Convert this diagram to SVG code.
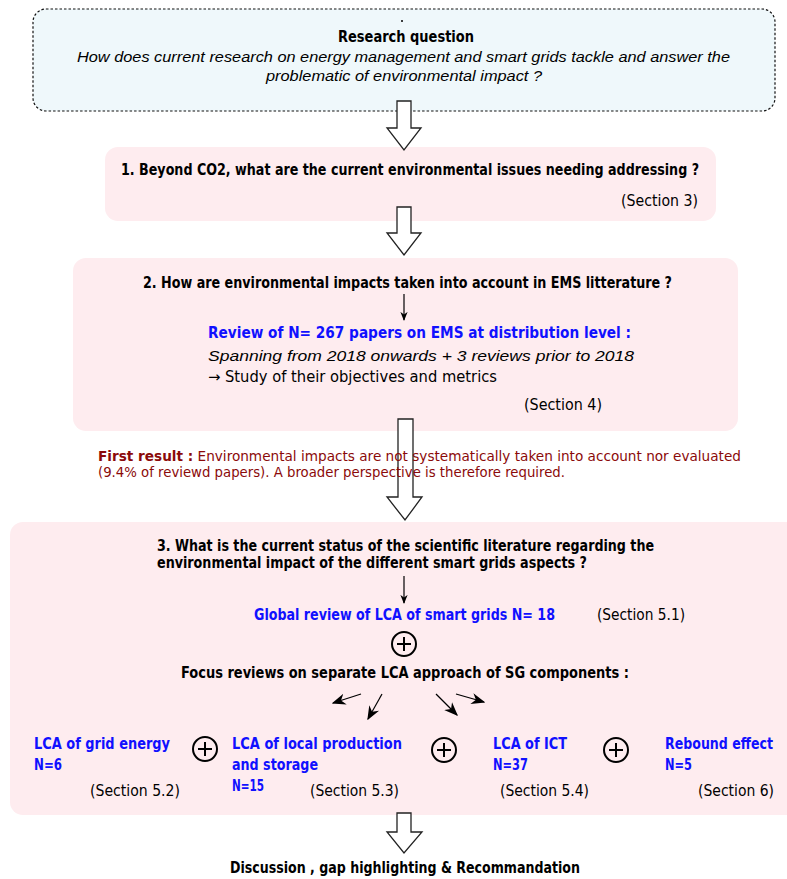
<svg xmlns="http://www.w3.org/2000/svg" width="787" height="879" viewBox="0 0 787 879">
<defs>
<style>
.c{font-family:"Liberation Sans Narrow","DejaVu Sans Condensed","DejaVu Sans",sans-serif;font-stretch:condensed;font-size:15px;fill:#000}
.b{font-weight:bold}
.blue{fill:#1010ff;font-weight:bold}
.red{fill:#8b0a0a;font-size:13.5px}
.it{font-family:"Liberation Sans",Arial,sans-serif;font-style:italic;font-size:15px;fill:#000}
.pink{fill:#feecef}
.big{fill:#fff;stroke:#222;stroke-width:1.3;stroke-linejoin:miter}
.plus{fill:none;stroke:#000;stroke-width:2}
.thin{stroke:#000;stroke-width:1.2;fill:none}
</style>
<marker id="ah" viewBox="0 0 10 10" refX="9" refY="5" markerWidth="9" markerHeight="9" orient="auto" markerUnits="userSpaceOnUse">
<path d="M0,1 L10,5 L0,9 L3,5 z" fill="#000"/>
</marker>
<marker id="ah2" viewBox="0 0 10 10" refX="9" refY="5" markerWidth="14" markerHeight="14" orient="auto" markerUnits="userSpaceOnUse">
<path d="M0,1 L10,5 L0,9 L3,5 z" fill="#000"/>
</marker>
</defs>

<g id="research-question">
<rect x="33" y="9" width="742" height="102" rx="13" fill="#eff8fb" stroke="#111" stroke-width="1.2" stroke-dasharray="2.5,2"/>
<circle cx="402" cy="21" r="1" fill="#000"/>
<text class="c b" x="338" y="42" textLength="136" lengthAdjust="spacingAndGlyphs">Research question</text>
<text class="it" x="77" y="62" textLength="653" lengthAdjust="spacingAndGlyphs">How does current research on energy management and smart grids tackle and answer the</text>
<text class="it" x="266" y="81" textLength="276" lengthAdjust="spacingAndGlyphs">problematic of environmental impact ?</text>
</g>

<g id="q1">
<rect class="pink" x="105" y="147" width="611" height="74" rx="13"/>
<text class="c b" x="121" y="175" textLength="578" lengthAdjust="spacingAndGlyphs">1. Beyond CO2, what are the current environmental issues needing addressing ?</text>
<text class="c" x="621" y="206" textLength="77" lengthAdjust="spacingAndGlyphs">(Section 3)</text>
</g>

<g id="q2">
<rect class="pink" x="73" y="258" width="665" height="173" rx="13"/>
<text class="c b" x="143" y="288" textLength="529" lengthAdjust="spacingAndGlyphs">2. How are environmental impacts taken into account in EMS litterature ?</text>
<text class="c blue" x="208" y="338" textLength="423" lengthAdjust="spacingAndGlyphs">Review of N= 267 papers on EMS at distribution level  :</text>
<text class="it" x="208" y="361" textLength="426" lengthAdjust="spacingAndGlyphs">Spanning from 2018 onwards + 3 reviews prior to 2018</text>
<text class="c" x="208" y="382" textLength="289" lengthAdjust="spacingAndGlyphs">→ Study of their objectives and metrics</text>
<text class="c" x="524" y="410" textLength="78" lengthAdjust="spacingAndGlyphs">(Section 4)</text>
</g>

<g id="q3">
<rect class="pink" x="10" y="522" width="790" height="293" rx="13"/>
<text class="c b" x="157" y="551" textLength="497" lengthAdjust="spacingAndGlyphs">3. What is the current status of the scientific literature regarding the</text>
<text class="c b" x="157" y="568" textLength="430" lengthAdjust="spacingAndGlyphs">environmental impact of the different smart grids aspects ?</text>
</g>

<g id="global-review">
<text class="c blue" x="254" y="620" textLength="301" lengthAdjust="spacingAndGlyphs">Global review of LCA of smart grids N= 18</text>
<text class="c" x="597" y="620" textLength="88" lengthAdjust="spacingAndGlyphs">(Section 5.1)</text>
</g>

<g id="plus-1">
<circle class="plus" cx="404" cy="644" r="12"/>
<path class="plus" d="M397,644 H411 M404,637 V651"/>
</g>

<g id="focus">
<text class="c b" x="181" y="678" textLength="448" lengthAdjust="spacingAndGlyphs">Focus reviews on separate LCA approach of SG components :</text>
</g>

<g id="grid-energy">
<text class="c blue" x="34" y="749" textLength="136" lengthAdjust="spacingAndGlyphs">LCA of grid energy</text>
<text class="c blue" x="34" y="770" textLength="28" lengthAdjust="spacingAndGlyphs">N=6</text>
<text class="c" x="90" y="796" textLength="90" lengthAdjust="spacingAndGlyphs">(Section 5.2)</text>
</g>

<g id="plus-2">
<circle class="plus" cx="205" cy="749" r="12"/>
<path class="plus" d="M198,749 H212 M205,742 V756"/>
</g>

<g id="local-production">
<text class="c blue" x="232" y="749" textLength="170" lengthAdjust="spacingAndGlyphs">LCA of local production</text>
<text class="c blue" x="232" y="770" textLength="86" lengthAdjust="spacingAndGlyphs">and storage</text>
<text class="c blue" x="232" y="791" textLength="32" lengthAdjust="spacingAndGlyphs">N=15</text>
<text class="c" x="310" y="796" textLength="89" lengthAdjust="spacingAndGlyphs">(Section 5.3)</text>
</g>

<g id="plus-3">
<circle class="plus" cx="444" cy="750" r="12"/>
<path class="plus" d="M437,750 H451 M444,743 V757"/>
</g>

<g id="ict">
<text class="c blue" x="493" y="749" textLength="74" lengthAdjust="spacingAndGlyphs">LCA of ICT</text>
<text class="c blue" x="493" y="770" textLength="35" lengthAdjust="spacingAndGlyphs">N=37</text>
<text class="c" x="500" y="796" textLength="89" lengthAdjust="spacingAndGlyphs">(Section 5.4)</text>
</g>

<g id="plus-4">
<circle class="plus" cx="616" cy="750" r="12"/>
<path class="plus" d="M609,750 H623 M616,743 V757"/>
</g>

<g id="rebound">
<text class="c blue" x="665" y="749" textLength="108" lengthAdjust="spacingAndGlyphs">Rebound effect</text>
<text class="c blue" x="665" y="770" textLength="27" lengthAdjust="spacingAndGlyphs">N=5</text>
<text class="c" x="698" y="796" textLength="76" lengthAdjust="spacingAndGlyphs">(Section 6)</text>
</g>

<g id="discussion">
<text class="c b" x="230" y="873" textLength="350" lengthAdjust="spacingAndGlyphs">Discussion , gap highlighting &amp; Recommandation</text>
</g>

<g id="connectors">
<path class="big" d="M397,101 H411 V128 H421 L404,150 L387,128 H397 Z"/>
<path class="big" d="M397,207 H411 V233 H421 L404,255 L387,233 H397 Z"/>
<path class="big" d="M398,419 H413 V497 H422 L405,520 L387,497 H398 Z"/>
<path class="big" d="M397,813 H411 V832 H422 L404,853 L387,832 H397 Z"/>
<line class="thin" x1="404" y1="294" x2="404" y2="320" marker-end="url(#ah)"/>
<line class="thin" x1="404" y1="576" x2="404" y2="603" marker-end="url(#ah)"/>
<line class="thin" x1="361" y1="694" x2="333" y2="703" marker-end="url(#ah2)"/>
<line class="thin" x1="382" y1="694" x2="368" y2="719" marker-end="url(#ah2)"/>
<line class="thin" x1="436" y1="694" x2="457" y2="715" marker-end="url(#ah2)"/>
<line class="thin" x1="456" y1="694" x2="484" y2="702" marker-end="url(#ah2)"/>
</g>

<g id="first-result">
<text class="c red" x="98" y="461" textLength="643" lengthAdjust="spacingAndGlyphs"><tspan font-weight="bold">First result :</tspan> Environmental impacts are not systematically taken into account nor evaluated</text>
<text class="c red" x="98" y="477" textLength="467" lengthAdjust="spacingAndGlyphs">(9.4% of reviewd papers). A broader perspective is therefore required.</text>
</g>
</svg>
